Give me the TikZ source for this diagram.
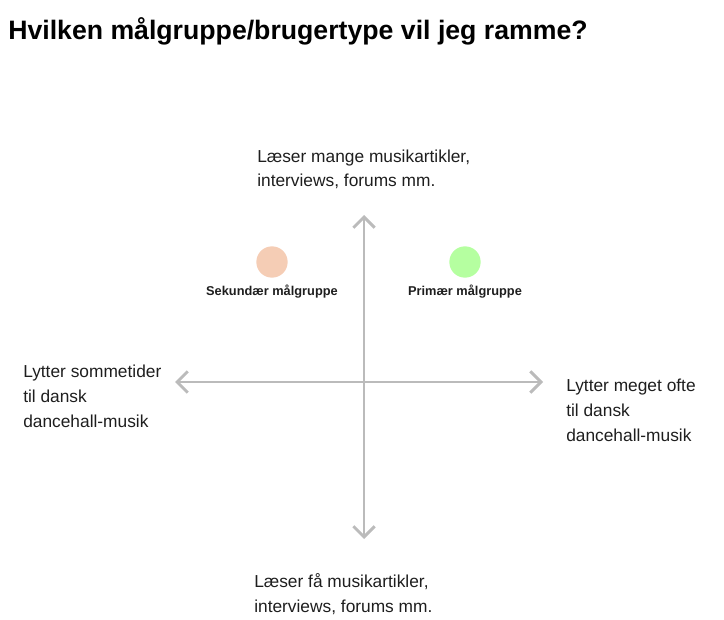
\documentclass[tikz,border=0pt]{standalone}
\usepackage{fontspec}
\setmainfont{Liberation Sans}
\usetikzlibrary{arrows.meta}

\begin{document}
\begin{tikzpicture}[x=0.75pt, y=-0.75pt,
    axisline/.style={line width=2.2pt, draw=axisColour,
        {Straight Barb[length=8pt, width=16pt, line width=2.2pt]}-{Straight Barb[length=8pt, width=16pt, line width=2.2pt]}},
    group/.style={circle, fill=#1, minimum size=23.5pt, inner sep=0pt},
    grouplabel/.style={font=\fontsize{9.6}{11}\selectfont\bfseries, text=textColour, anchor=base},
    axislabel/.style={font=\fontsize{13}{18.4}\selectfont, text=textColour, align=left, anchor=base west, inner sep=0pt}]
    % Define colours
    \definecolor{axisColour}{HTML}{BBBBBB}
    \definecolor{textColour}{HTML}{1E1E1E}
    \definecolor{secondaryColour}{HTML}{F5CDB5}
    \definecolor{primaryColour}{HTML}{B5FFA0}

    % Fix the page size
    \useasboundingbox (0,0) rectangle (724,620);

    % Title
    \node[anchor=base west, inner sep=0pt, font=\fontsize{20}{24}\selectfont\bfseries] (title) at (8,40)
        {Hvilken målgruppe/brugertype vil jeg ramme?};

    % Define the axis ends
    \coordinate (top) at (364,215);
    \coordinate (bottom) at (364,539);
    \coordinate (left) at (175,382);
    \coordinate (right) at (543,382);

    % Draw axes
    \draw[axisline] (bottom) -- (top);
    \draw[axisline] (left) -- (right);

    % Label the axes (placed at the baseline of the last line)
    \node[axislabel] (topText) at (257,187) {Læser mange musikartikler,\\interviews, forums mm.};
    \node[axislabel] (bottomText) at (254,612) {Læser få musikartikler,\\interviews, forums mm.};
    \node[axislabel] (leftText) at (23,427) {Lytter sommetider\\til dansk\\dancehall-musik};
    \node[axislabel] (rightText) at (566,441) {Lytter meget ofte\\til dansk\\dancehall-musik};

    % Target groups
    \node[group=secondaryColour] (secondary) at (272,262) {};
    \node[group=primaryColour] (primary) at (465,262) {};
    \node[grouplabel] (secondaryText) at (272,295) {Sekundær målgruppe};
    \node[grouplabel] (primaryText) at (465,295) {Primær målgruppe};

\end{tikzpicture}
\end{document}
